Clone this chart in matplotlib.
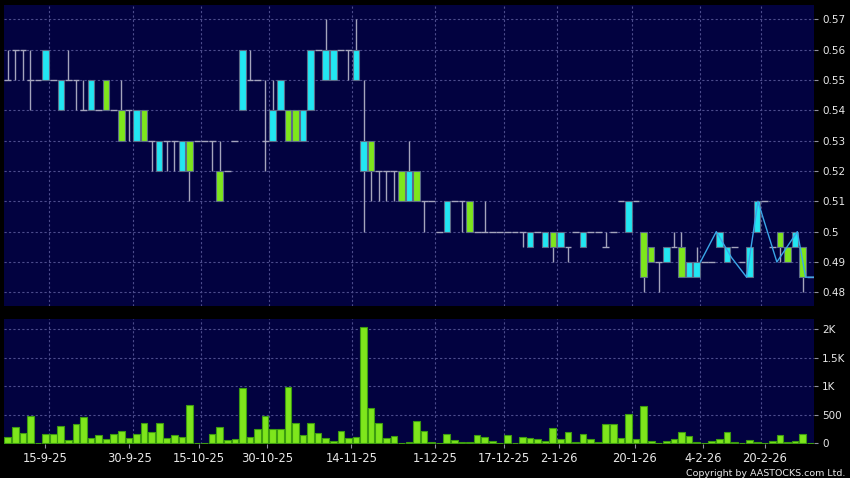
import matplotlib

matplotlib.use("Agg")
import matplotlib.pyplot as plt
import numpy as np
from matplotlib.ticker import FuncFormatter

# daily OHLC + volume (in shares, thousands shown as K)
opens = [0.55, 0.56, 0.56, 0.55, 0.55, 0.56, 0.55, 0.55, 0.55, 0.55,
         0.54, 0.55, 0.54, 0.54, 0.54, 0.53, 0.54, 0.54, 0.53, 0.53,
         0.53, 0.53, 0.53, 0.53, 0.52, 0.53, 0.53, 0.53, 0.51, 0.52,
         0.53, 0.56, 0.55, 0.55, 0.53, 0.54, 0.55, 0.53, 0.53, 0.54,
         0.56, 0.56, 0.56, 0.56, 0.56, 0.56, 0.56, 0.53, 0.52, 0.52,
         0.52, 0.52, 0.51, 0.52, 0.51, 0.51, 0.51, 0.50, 0.51, 0.51,
         0.51, 0.50, 0.50, 0.50, 0.50, 0.50, 0.50, 0.50, 0.50, 0.50,
         0.50, 0.50, 0.495, 0.50, 0.495, 0.50, 0.50, 0.50, 0.50, 0.495,
         0.50, 0.51, 0.51, 0.51, 0.485, 0.49, 0.49, 0.495, 0.495, 0.485,
         0.49, 0.49, 0.49, 0.49, 0.50, 0.495, 0.495, 0.49, 0.495, 0.51,
         0.51, 0.495, 0.495, 0.49, 0.50, 0.485, 0.485]
closes = [0.55, 0.56, 0.56, 0.55, 0.55, 0.55, 0.55, 0.54, 0.55, 0.55,
          0.54, 0.54, 0.54, 0.55, 0.54, 0.54, 0.54, 0.53, 0.54, 0.53,
          0.52, 0.53, 0.53, 0.52, 0.53, 0.53, 0.53, 0.53, 0.52, 0.52,
          0.53, 0.54, 0.55, 0.55, 0.53, 0.53, 0.54, 0.54, 0.54, 0.53,
          0.54, 0.56, 0.55, 0.55, 0.56, 0.56, 0.55, 0.52, 0.53, 0.52,
          0.52, 0.52, 0.52, 0.51, 0.52, 0.51, 0.51, 0.50, 0.50, 0.51,
          0.51, 0.51, 0.50, 0.50, 0.50, 0.50, 0.50, 0.50, 0.50, 0.495,
          0.50, 0.495, 0.50, 0.495, 0.495, 0.50, 0.495, 0.50, 0.50, 0.495,
          0.50, 0.51, 0.50, 0.51, 0.50, 0.495, 0.49, 0.49, 0.495, 0.495,
          0.485, 0.485, 0.49, 0.49, 0.495, 0.49, 0.495, 0.49, 0.485, 0.50,
          0.51, 0.495, 0.50, 0.495, 0.495, 0.495, 0.485]
highs = [0.56, 0.56, 0.56, 0.56, 0.55, 0.56, 0.55, 0.55, 0.56, 0.55,
         0.55, 0.55, 0.54, 0.55, 0.54, 0.55, 0.54, 0.54, 0.54, 0.53,
         0.53, 0.53, 0.53, 0.53, 0.53, 0.53, 0.53, 0.53, 0.53, 0.52,
         0.53, 0.56, 0.56, 0.55, 0.55, 0.55, 0.55, 0.54, 0.54, 0.54,
         0.56, 0.56, 0.57, 0.56, 0.56, 0.56, 0.57, 0.55, 0.53, 0.52,
         0.52, 0.52, 0.52, 0.53, 0.52, 0.51, 0.51, 0.50, 0.51, 0.51,
         0.51, 0.51, 0.50, 0.51, 0.50, 0.50, 0.50, 0.50, 0.50, 0.50,
         0.50, 0.50, 0.50, 0.50, 0.495, 0.50, 0.50, 0.50, 0.50, 0.50,
         0.50, 0.51, 0.51, 0.51, 0.50, 0.495, 0.49, 0.495, 0.50, 0.50,
         0.49, 0.495, 0.49, 0.49, 0.50, 0.495, 0.495, 0.49, 0.495, 0.51,
         0.51, 0.495, 0.50, 0.495, 0.50, 0.495, 0.485]
lows = [0.55, 0.55, 0.55, 0.54, 0.55, 0.55, 0.55, 0.54, 0.55, 0.54,
        0.54, 0.54, 0.54, 0.54, 0.54, 0.53, 0.53, 0.53, 0.53, 0.52,
        0.52, 0.52, 0.52, 0.52, 0.51, 0.53, 0.53, 0.52, 0.51, 0.52,
        0.53, 0.54, 0.55, 0.55, 0.52, 0.53, 0.54, 0.53, 0.53, 0.53,
        0.54, 0.56, 0.55, 0.55, 0.56, 0.55, 0.55, 0.50, 0.51, 0.51,
        0.51, 0.51, 0.51, 0.51, 0.51, 0.50, 0.51, 0.50, 0.50, 0.51,
        0.50, 0.50, 0.50, 0.50, 0.50, 0.50, 0.50, 0.50, 0.495, 0.495,
        0.50, 0.495, 0.49, 0.495, 0.49, 0.50, 0.495, 0.50, 0.50, 0.495,
        0.50, 0.51, 0.50, 0.51, 0.48, 0.49, 0.48, 0.49, 0.495, 0.485,
        0.485, 0.485, 0.49, 0.49, 0.495, 0.49, 0.495, 0.49, 0.485, 0.50,
        0.51, 0.495, 0.49, 0.49, 0.495, 0.48, 0.485]
volumes = [109, 282, 184, 483, 10, 167, 167, 310, 63, 333,
           460, 86, 138, 69, 167, 213, 86, 167, 362, 201,
           362, 98, 138, 109, 673, 8, 8, 167, 282, 52,
           75, 978, 115, 247, 472, 259, 259, 995, 362, 150,
           351, 173, 92, 35, 213, 86, 109, 2036, 621, 351,
           86, 121, 6, 29, 385, 213, 17, 5, 161, 58,
           17, 17, 138, 109, 40, 3, 144, 10, 104, 86,
           75, 40, 276, 69, 190, 23, 155, 81, 23, 334,
           345, 98, 506, 75, 650, 40, 5, 46, 81, 190,
           127, 17, 5, 40, 81, 190, 17, 5, 52, 17,
           5, 46, 138, 17, 46, 161, 0]

# overlay line drawn on the last weeks (bar position, price)
line_x = [91.5, 93.6, 95.6, 97.6, 99.1, 101.6, 104.3, 105.4, 106.5]
line_y = [0.49, 0.50, 0.4915, 0.485, 0.51, 0.49, 0.50, 0.485, 0.485]

tick_labels = ["15-9-25", "30-9-25", "15-10-25", "30-10-25", "14-11-25", "1-12-25",
               "17-12-25", "2-1-26", "20-1-26", "4-2-26", "20-2-26"]
tick_bars = [5, 16, 25, 34, 45, 56, 65, 72, 82, 91, 99]
tick_pos = [4.92, 16.06, 25.2, 34.3, 45.4, 56.5, 65.6, 72.8, 82.8, 91.9, 100.0]

price_ticks = [0.48, 0.49, 0.50, 0.51, 0.52, 0.53, 0.54, 0.55, 0.56, 0.57]
vol_ticks = [0, 500, 1000, 1500, 2000]

NAVY = "#020240"
CYAN = "#22e6f2"
GREEN = "#7ee61c"
GRID = "#4c4c8c"
WICK = "#a4a4bc"
TXT = "#e8e8e8"

o = np.array(opens)
c = np.array(closes)
h = np.array(highs)
lo = np.array(lows)
x = np.arange(len(o))

fig = plt.figure(figsize=(8.5, 4.78), dpi=100, facecolor="black")
ax = fig.add_axes([0.0047, 0.3605, 0.9529, 0.629])
axv = fig.add_axes([0.0047, 0.0711, 0.9529, 0.2615])

for a in (ax, axv):
    a.set_facecolor(NAVY)
    for s in a.spines.values():
        s.set_visible(False)
    a.set_xlim(-0.5, 106.5)
    for b in tick_bars:
        a.axvline(b + 0.5, color=GRID, lw=0.8, ls=(0, (2, 2)), zorder=0)
    a.yaxis.tick_right()
    a.tick_params(axis="y", colors="#9090a0", labelcolor=TXT, length=3, pad=3, labelsize=7.5)

# price panel
ax.set_ylim(0.4756, 0.5747)
ax.set_yticks(price_ticks)
ax.yaxis.set_major_formatter(FuncFormatter(lambda v, p: f"{v:g}"))
for v in price_ticks:
    ax.axhline(v, color=GRID, lw=0.8, ls=(0, (2, 2)), zorder=0)
ax.set_xticks([])

ax.vlines(x, lo, h, color=WICK, lw=1, zorder=2)
doji = o == c
ax.hlines(c[doji], x[doji] - 0.45, x[doji] + 0.45, color=WICK, lw=1, zorder=2)
body = ~doji
col = np.where(c > o, GREEN, CYAN)
ax.bar(x[body], np.abs(c - o)[body], bottom=np.minimum(o, c)[body], width=0.86,
       color=col[body], edgecolor="#5c6c88", linewidth=0.8, zorder=3)
ax.plot(line_x, line_y, color="#3aa6e8", lw=1, zorder=4)

# volume panel
axv.set_ylim(-12, 2180)
axv.set_yticks(vol_ticks)
axv.yaxis.set_major_formatter(FuncFormatter(
    lambda v, p: "0" if v == 0 else (f"{v / 1000:g}K" if v >= 1000 else f"{v:g}")))
for v in vol_ticks[1:]:
    axv.axhline(v, color=GRID, lw=0.8, ls=(0, (2, 2)), zorder=0)
axv.bar(x, volumes, width=0.88, color=GREEN, edgecolor="#3c9c10", linewidth=0.8, zorder=3)
axv.set_xticks(tick_pos)
axv.set_xticklabels(tick_labels)
axv.tick_params(axis="x", colors="#9090a0", labelcolor=TXT, length=3, pad=3, labelsize=8.3)

fig.text(0.995, 0.001, "Copyright by AASTOCKS.com Ltd.", color=TXT, fontsize=6.8,
         ha="right", va="bottom")

fig.savefig("out.png", dpi=100, facecolor="black")
